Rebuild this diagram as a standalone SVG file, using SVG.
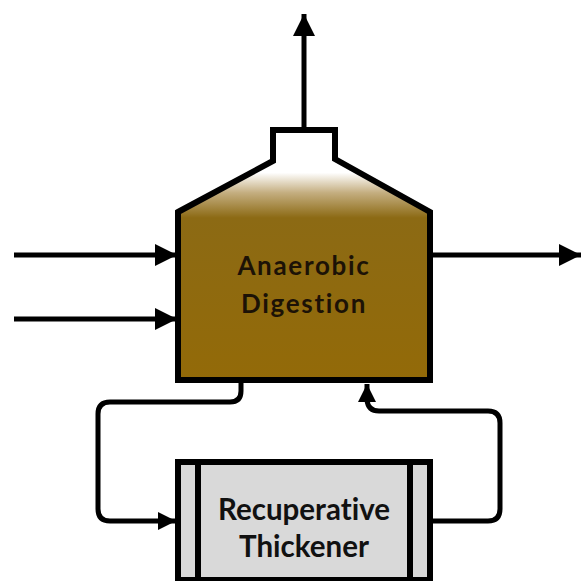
<svg xmlns="http://www.w3.org/2000/svg" width="581" height="581" viewBox="0 0 581 581">
<style>
.o{stroke:#000;stroke-width:6;stroke-linejoin:miter}
.c{fill:none;stroke:#000;stroke-width:5}
.t{font-family:Lato,"Liberation Sans",sans-serif;font-weight:700;text-anchor:middle;fill:#111;font-variant-ligatures:none}
.d{fill:#1c1206;font-size:26px;letter-spacing:1.7px}
.r{font-size:29.5px}
</style>
<defs>
<linearGradient id="g" gradientUnits="userSpaceOnUse" x1="0" y1="130" x2="0" y2="381">
<stop offset="0" stop-color="#fff"/>
<stop offset="0.17" stop-color="#fff"/>
<stop offset="0.25" stop-color="#c4ae80"/>
<stop offset="0.35" stop-color="#8c6a14"/>
<stop offset="1" stop-color="#936a08"/>
</linearGradient>
<marker id="a" markerUnits="userSpaceOnUse" markerWidth="24" markerHeight="24" refX="22" refY="12" orient="auto"><path d="M0 1L22 12L0 23Z" fill="#000"/></marker>
<marker id="b" markerUnits="userSpaceOnUse" markerWidth="20" markerHeight="20" refX="18" refY="10" orient="auto"><path d="M0 1L18 10L0 19Z" fill="#000"/></marker>
</defs>
<rect width="581" height="581" fill="#fff"/>
<g id="connectors">
<path class="c" d="M304 130V14" marker-end="url(#a)"/>
<path class="c" d="M14 255H177" marker-end="url(#a)"/>
<path class="c" d="M14 319H177" marker-end="url(#a)"/>
<path class="c" d="M432 255H581" marker-end="url(#a)"/>
<path class="c" d="M241 383V391Q241 402 230 402H110Q98 402 98 414V509Q98 521 110 521H176" marker-end="url(#b)"/>
<path class="c" d="M432 521H488Q500 521 500 509V423Q500 411 488 411H379Q368 411 367 400V384" marker-end="url(#b)"/>
</g>
<g id="digester">
<path class="o" fill="url(#g)" d="M178 212L273 161V130H335V159L430 212V380H178Z"/>
<text class="t d" x="304" y="275">Anaerobic</text>
<text class="t d" x="304" y="313">Digestion</text>
</g>
<g id="thickener">
<rect class="o" x="178" y="462" width="252" height="118" fill="#d9d9d9"/>
<path class="o" d="M198 462V580M410 462V580"/>
<text class="t r" x="304" y="520">Recuperative</text>
<text class="t r" x="304" y="557">Thickener</text>
</g>
</svg>
